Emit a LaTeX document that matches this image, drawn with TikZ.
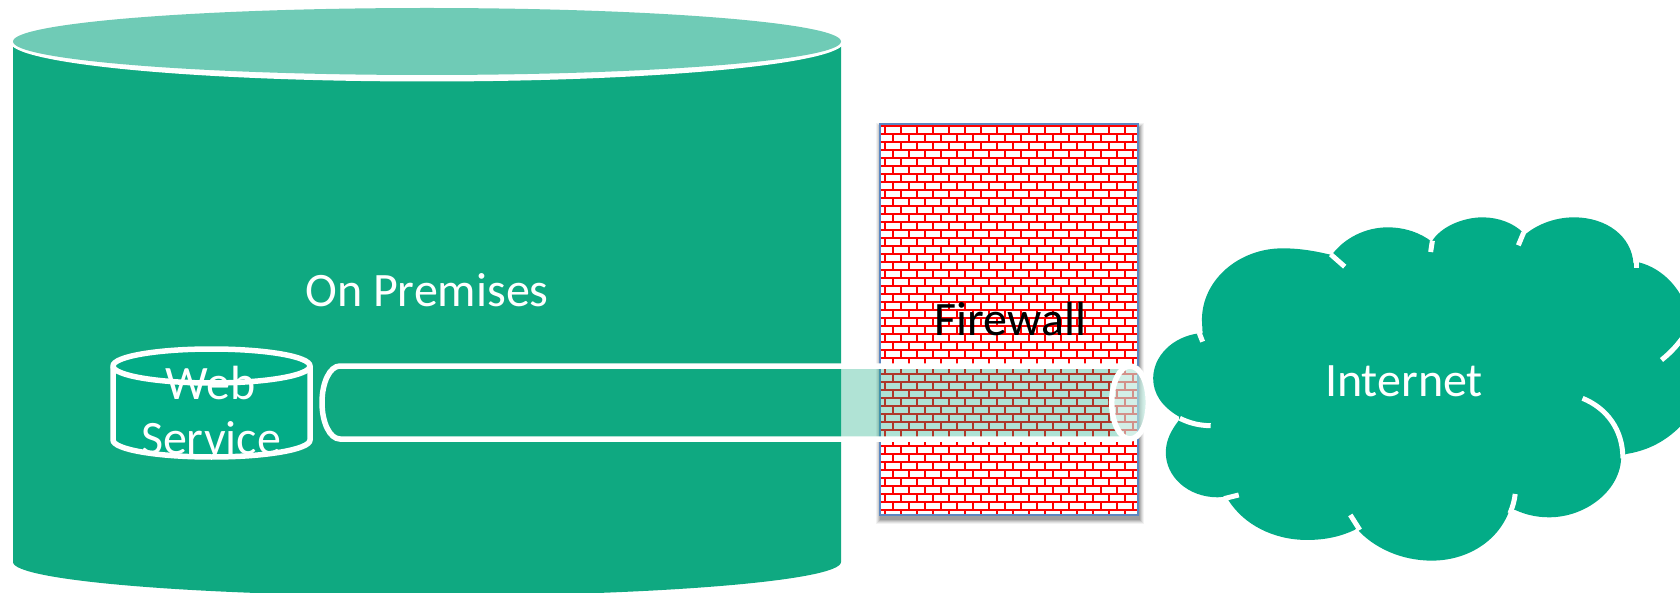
\documentclass[tikz,border=0pt]{standalone}
\usepackage{fontspec}
\setmainfont{Carlito}
\definecolor{bodygreen}{HTML}{0FA981}
\definecolor{cloudgreen}{HTML}{03AC87}
\definecolor{topgreen}{HTML}{6FCBB6}
\definecolor{fwblue}{HTML}{5B87C2}
\tikzset{
  label48/.style={text=white,inner sep=0pt,font=\fontsize{48}{55}\selectfont},
  outline/.style={draw=white,line width=5.5pt},
  stub/.style={draw=white,line width=5pt},
  brick/.style={draw=red,line width=2pt},
}
\begin{document}
\begin{tikzpicture}[x=1pt,y=-1pt]
\useasboundingbox (0,0) rectangle (1680,593);
% large cylinder
\fill[bodygreen] (13,42) -- (13,562)
  .. controls (13,580.8) and (198.4,596) .. (427,596)
  .. controls (655.6,596) and (841,580.8) .. (841,562) -- (841,42) -- cycle;
\fill[white] (427,42) ellipse [x radius=417,y radius=39.5];
\fill[topgreen] (427,41.5) ellipse [x radius=414,y radius=33.5];
\node[label48,anchor=base] (premises) at (427,307) {On Premises};
% firewall
\foreach \e/\o in {5/.05,4/.07,3/.09,2/.11,1/.13}
  \fill[black,opacity=\o] (880+1-\e,124+4-\e) rectangle (1138+1+\e,515+4+\e);
\fill[white] (880,124) rectangle (1138,515);
\begin{scope}
  \clip (880,124) rectangle (1138,515);
  \foreach \r in {0,...,49} {
    \pgfmathsetmacro{\yy}{125.7+8*\r}
    \pgfmathsetmacro{\xo}{885+8*mod(\r,2)}
    \draw[brick] (880,\yy) -- (1138,\yy);
    \foreach \c in {-1,...,16}
      \draw[brick] (\xo+16*\c,\yy) -- (\xo+16*\c,\yy+8);
  }
\end{scope}
\draw[fwblue,line width=1.7pt] (880,124) rectangle (1138,515);
\node[inner sep=0pt,anchor=base,text=black,font=\fontsize{48}{55}\selectfont] (firewall) at (1010.5,335) {Firewall};
% cloud
\begin{scope}
\clip (1140,190) rectangle (1680,593);
\begin{scope}[shift={(1130,200)},xscale=.3508,yscale=.3333]
\fill[cloudgreen] (140,650)
  .. controls (90,620) and (66,580) .. (66,535)
  .. controls (66,470) and (120,410) .. (197,400)
  -- (207,400) -- (205,360)
  .. controls (205,240) and (310,145) .. (435,145)
  .. controls (490,145) and (535,155) .. (575,165)
  .. controls (610,115) and (670,82) .. (735,82)
  .. controls (785,82) and (830,100) .. (860,125)
  .. controls (885,80) and (950,52) .. (1005,52)
  .. controls (1050,52) and (1095,70) .. (1120,98)
  -- (1112,118)
  .. controls (1150,75) and (1210,52) .. (1265,52)
  .. controls (1360,52) and (1430,110) .. (1435,190)
  -- (1450,187)
  .. controls (1520,205) and (1575,270) .. (1590,340)
  -- (1650,500) -- (1650,640) -- (1568,680)
  .. controls (1525,725) and (1475,752) .. (1415,762)
  -- (1400,770)
  .. controls (1400,870) and (1300,952) .. (1195,952)
  .. controls (1160,952) and (1130,945) .. (1098,930)
  -- (1082,930)
  .. controls (1050,1025) and (960,1082) .. (860,1082)
  .. controls (775,1082) and (695,1045) .. (645,985)
  -- (640,990)
  .. controls (600,1010) and (555,1020) .. (505,1020)
  .. controls (410,1020) and (325,975) .. (280,900)
  -- (270,890) -- (250,892)
  .. controls (165,892) and (102,830) .. (102,758)
  .. controls (102,720) and (118,690) .. (140,660) -- cycle;
\draw[stub] (197,398) -- (207,425);
\draw[stub] (572,163) -- (612,200);
\draw[stub] (862,122) -- (857,156);
\draw[stub] (1122,98) -- (1107,136);
\draw[stub] (1443,165) -- (1443,205);
\draw[stub] (1590,390) .. controls (1570,425) and (1545,455) .. (1515,480);
\draw[stub] (1290,595) .. controls (1360,625) and (1405,690) .. (1405,775);
\draw[stub] (1098,882) .. controls (1096,900) and (1092,918) .. (1083,940);
\draw[stub] (628,945) -- (655,990);
\draw[stub] (310,885) -- (268,896);
\draw[stub] (142,655) .. controls (170,670) and (200,677) .. (230,677);
\end{scope}
\end{scope}
\node[label48,anchor=base] (internet) at (1404,396) {Internet};
% small cylinder
\draw[outline,fill=cloudgreen] (113,366) -- (113,440)
  .. controls (113,449.4) and (157,457) .. (211.5,457)
  .. controls (266,457) and (310,449.4) .. (310,440) -- (310,366)
  .. controls (310,356.6) and (266,349) .. (211.5,349)
  .. controls (157,349) and (113,356.6) .. (113,366) -- cycle;
\draw[outline] (113,366) .. controls (113,375.4) and (157,383) .. (211.5,383)
  .. controls (266,383) and (310,375.4) .. (310,366);
\node[label48,align=center] (web) at (211,410) {Web\\Service};
% tunnel
\fill[bodygreen,opacity=.33] (340,366) -- (1130,366)
  .. controls (1140.1,366) and (1148.3,382.3) .. (1148.3,402.5)
  .. controls (1148.3,422.7) and (1140.1,439) .. (1130,439)
  -- (340,439)
  .. controls (329.9,439) and (322,422.7) .. (322,402.5)
  .. controls (322,382.3) and (329.9,366) .. (340,366) -- cycle;
\draw[outline] (1130,366) -- (340,366)
  .. controls (329.9,366) and (322,382.3) .. (322,402.5)
  .. controls (322,422.7) and (329.9,439) .. (340,439) -- (1130,439);
\fill[white,opacity=.45] (1130,402.5) ellipse [x radius=18.3,y radius=36.5];
\draw[outline] (1130,402.5) ellipse [x radius=18.3,y radius=36.5];
\end{tikzpicture}
\end{document}
